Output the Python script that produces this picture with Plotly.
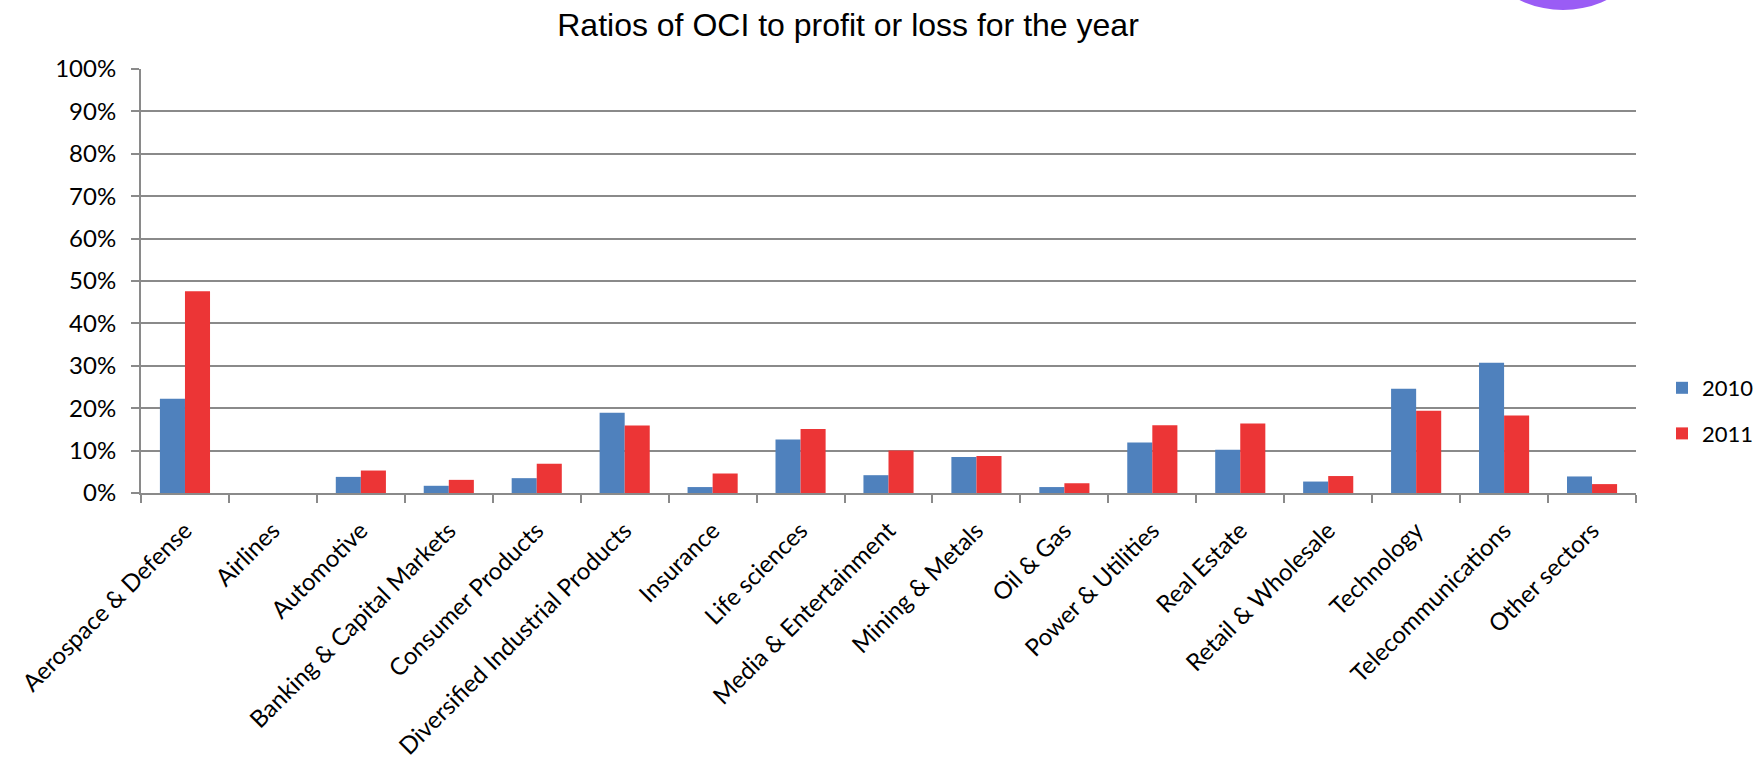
import plotly.graph_objects as go

categories = ["Aerospace & Defense", "Airlines", "Automotive", "Banking & Capital Markets",
              "Consumer Products", "Diversified Industrial Products", "Insurance", "Life sciences",
              "Media & Entertainment", "Mining & Metals", "Oil & Gas", "Power & Utilities",
              "Real Estate", "Retail & Wholesale", "Technology", "Telecommunications", "Other sectors"]
values_2010 = [0.222, 0.0, 0.038, 0.017, 0.035, 0.189, 0.014, 0.126, 0.042, 0.085, 0.014, 0.119,
               0.102, 0.027, 0.246, 0.307, 0.039]
values_2011 = [0.476, 0.0, 0.053, 0.031, 0.069, 0.159, 0.046, 0.151, 0.100, 0.087, 0.023, 0.160,
               0.164, 0.040, 0.194, 0.183, 0.021]
series_names = ["2010", "2011"]
title_text = "Ratios of OCI to profit or loss for the year"

BLUE = "#4F81BD"
RED = "#EC3536"
GRID = "#8A8A8A"
FONT_FAMILY = "Lato, 'Open Sans', sans-serif"
TICK_FONT = dict(family=FONT_FAMILY, size=24, color="#000000")
LEGEND_FONT = dict(family=FONT_FAMILY, size=22, color="#000000")

fig = go.Figure()
for name, vals, col in zip(series_names, [values_2010, values_2011], [BLUE, RED]):
    fig.add_trace(go.Bar(x=categories, y=vals, name=name, marker_color=col,
                         marker_line_width=0, legendgroup=name))

W, H = 1760, 757
L, R, T, B = 141, 124, 69, 264
pw = W - L - R
ph = H - T - B

def px_x(p):  # screen px -> paper x
    return (p - L) / pw

def px_y(p):  # screen px -> paper y
    return (H - B - p) / ph

fig.update_layout(
    width=W, height=H,
    margin=dict(l=L, r=R, t=T, b=B, pad=0, autoexpand=False),
    paper_bgcolor="white", plot_bgcolor="white",
    bargap=0.43, bargroupgap=0,
    barmode="group",
    title=dict(text=title_text, x=848 / W, xanchor="center", xref="container",
               y=1 - 25 / H, yanchor="middle", yref="container",
               font=dict(family="'Liberation Sans', Arial, sans-serif", size=32, color="#000000")),
    legend=dict(x=px_x(1662), y=px_y(411), xanchor="left", yanchor="middle",
                font=LEGEND_FONT, tracegroupgap=14, itemwidth=30,
                bgcolor="rgba(0,0,0,0)"),
    showlegend=True,
)
fig.update_xaxes(
    showline=True, linecolor=GRID, linewidth=2,
    ticks="outside", tickson="boundaries", ticklen=8, tickcolor=GRID, tickwidth=2,
    tickangle=-45, tickfont=TICK_FONT, showgrid=False, zeroline=False,
    ticklabelstandoff=12,
)
fig.update_yaxes(
    range=[0, 1], dtick=0.1, tickformat=".0%",
    showline=True, linecolor=GRID, linewidth=2,
    ticks="outside", ticklen=8, tickcolor=GRID, tickwidth=2,
    showgrid=True, gridcolor=GRID, gridwidth=2, zeroline=False,
    tickfont=TICK_FONT, ticklabelstandoff=10,
)

# decorative purple circle partially visible at the top right
fig.add_shape(type="circle", xref="paper", yref="paper",
              x0=px_x(1463), x1=px_x(1663), y0=px_y(10), y1=px_y(-190),
              fillcolor="#9A5CF5", line=dict(width=0), layer="above")

fig.write_html("out.html", config={"displayModeBar": False},
               post_script="document.body.style.margin='0';")
